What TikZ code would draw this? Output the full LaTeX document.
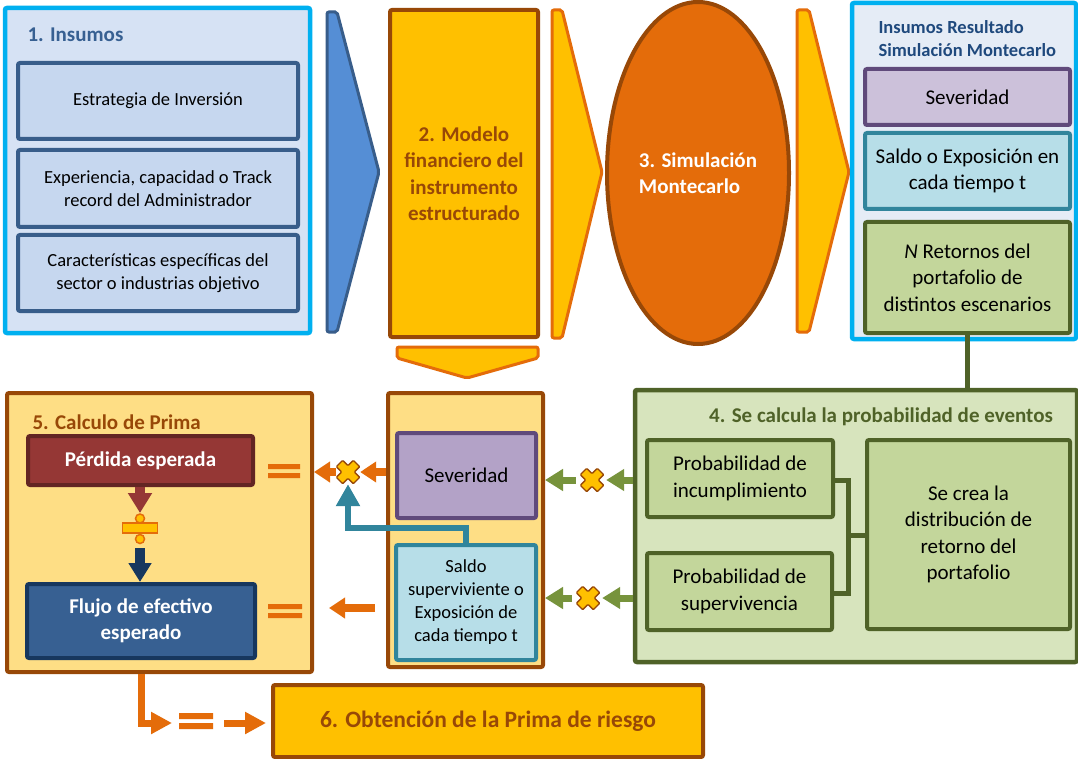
\documentclass[tikz,border=0pt]{standalone}
\usepackage{fontspec}
\setmainfont{Carlito}
\usetikzlibrary{arrows.meta,shapes.geometric,calc}

\definecolor{cyanB}{HTML}{00B0F0}
\definecolor{pOneFill}{HTML}{D6E2F4}
\definecolor{pOneBox}{HTML}{C6D7EF}
\definecolor{navyLine}{HTML}{385D8A}
\definecolor{titleBlue}{HTML}{376092}
\definecolor{titleDark}{HTML}{1F497D}
\definecolor{blueArrow}{HTML}{558ED5}
\definecolor{goldA}{HTML}{FFC000}
\definecolor{brownA}{HTML}{984807}
\definecolor{orangeA}{HTML}{E46C0A}
\definecolor{rightFill}{HTML}{E5ECF6}
\definecolor{lilacA}{HTML}{CCC1DA}
\definecolor{lilacB}{HTML}{B3A2C7}
\definecolor{purpleLine}{HTML}{604A7B}
\definecolor{aquaFill}{HTML}{B7DEE8}
\definecolor{tealA}{HTML}{31859C}
\definecolor{oliveFill}{HTML}{C3D69B}
\definecolor{oliveLine}{HTML}{4F6228}
\definecolor{paleGreen}{HTML}{D7E4BD}
\definecolor{greenArrow}{HTML}{77933C}
\definecolor{paleGold}{HTML}{FEDE85}
\definecolor{redFill}{HTML}{953735}
\definecolor{redLine}{HTML}{632523}
\definecolor{flowFill}{HTML}{376092}
\definecolor{flowLine}{HTML}{17375E}

\newcommand\fsSmall{\fontsize{18.5}{23}\selectfont}
\newcommand\fsMid{\fontsize{21}{26.5}\selectfont}
\newcommand\fsBig{\fontsize{23.5}{28}\selectfont}

\tikzset{
  panel/.style={draw, rectangle, rounded corners=2pt, line width=4.5pt, inner sep=0pt},
  box/.style={draw, rectangle, rounded corners=2pt, line width=4pt, align=center, inner sep=0pt},
  chevron/.style={rounded corners=2pt, line width=3pt},
  mulnode/.style={circle, minimum size=24pt, inner sep=0pt},
  oarrow/.style={draw=orangeA, line width=8pt, -{Triangle[length=16pt,width=20pt]}},
  oLarrow/.style={draw=orangeA, line width=7pt, -{Triangle[length=21pt,width=21pt]}},
  garrow/.style={draw=greenArrow, line width=7pt, -{Triangle[length=18pt,width=21pt]}},
  tarrow/.style={draw=tealA, line width=6pt, -{Triangle[length=22pt,width=23pt]}},
  rarrow/.style={draw=redFill, line width=10pt, -{Triangle[length=20pt,width=23pt]}},
  barrow/.style={draw=flowLine, line width=10pt, -{Triangle[length=19pt,width=22pt]}},
  link/.style={draw=oliveLine, line width=5pt},
  mulsign/.pic={
    \path[fill=goldA, draw=brownA, line width=1.3pt, rotate=45, rounded corners=0.8pt]
      (-4.5,-12) -- (4.5,-12) -- (4.5,-4.5) -- (12,-4.5) -- (12,4.5) -- (4.5,4.5)
      -- (4.5,12) -- (-4.5,12) -- (-4.5,4.5) -- (-12,4.5) -- (-12,-4.5) -- (-4.5,-4.5) -- cycle;
  }
}

\begin{document}
\begin{tikzpicture}[x=1pt,y=-1pt]
\useasboundingbox (0,0) rectangle (1078,759);
\fill[white] (0,0) rectangle (1078,759);

% ---------- 1. Insumos ----------
\node[panel, draw=cyanB, fill=pOneFill, minimum width=305pt, minimum height=325pt] (p1) at (157.5,170.5) {};
\node[anchor=west, text=titleBlue, font=\fsMid\bfseries] (t1) at (24,35) {1. Insumos};
\node[box, draw=navyLine, fill=pOneBox, minimum width=280pt, minimum height=76pt, font=\fsSmall] (ia) at (158,101) {Estrategia de Inversión};
\node[box, draw=navyLine, fill=pOneBox, minimum width=280pt, minimum height=77pt, font=\fsSmall] (ib) at (158,188.5) {Experiencia, capacidad o Track\\record del Administrador};
\node[box, draw=navyLine, fill=pOneBox, minimum width=280pt, minimum height=76pt, font=\fsSmall] (ic) at (158,273) {Características específicas del\\sector o industrias objetivo};

% blue chevron
\path[chevron, fill=blueArrow, draw=navyLine] (327,12) -- (337,12) -- (379,172) -- (337,332) -- (327,332) -- cycle;

% ---------- 2. Modelo financiero ----------
\node[box, draw=brownA, fill=goldA, minimum width=148pt, minimum height=327pt, text=brownA, font=\fsMid\bfseries] (m2) at (464,173.5) {2. Modelo\\financiero del\\instrumento\\estructurado};
\path[chevron, fill=goldA, draw=orangeA] (397,347) -- (538,347) -- (538,358) -- (467,378) -- (397,358) -- cycle;
\path[chevron, fill=goldA, draw=orangeA] (552,10) -- (562,10) -- (602,172) -- (562,338) -- (552,338) -- cycle;

% ---------- 3. Simulacion Montecarlo ----------
\node[ellipse, draw=brownA, line width=4pt, fill=orangeA, minimum width=182pt, minimum height=342pt, inner sep=0pt, align=left, text=white, font=\fsMid\bfseries] (sim) at (698,173) {3. Simulación\\Montecarlo};
\path[chevron, fill=goldA, draw=orangeA] (797,10) -- (809,10) -- (849,172) -- (809,332) -- (797,332) -- cycle;

% ---------- Insumos resultado ----------
\node[panel, draw=cyanB, fill=rightFill, minimum width=224pt, minimum height=336pt] (pr) at (964,171) {};
\node[anchor=west, align=left, text=titleDark, font=\fontsize{18.5}{23}\selectfont\bfseries] (tr) at (875,38.5) {Insumos Resultado\\Simulación Montecarlo};
\node[box, draw=purpleLine, fill=lilacA, minimum width=205pt, minimum height=56pt, font=\fsMid] (sevR) at (967.5,97) {Severidad};
\node[box, draw=tealA, fill=aquaFill, minimum width=205pt, minimum height=76pt, font=\fsMid] (salR) at (967.5,171) {Saldo o Exposición en\\cada tiempo t};
\node[box, draw=oliveLine, fill=oliveFill, minimum width=205pt, minimum height=111pt, font=\fsMid] (ret) at (967.5,277.5) {\textit{N} Retornos del\\portafolio de\\distintos escenarios};

% ---------- 4. Probabilidad de eventos ----------
\node[panel, draw=oliveLine, fill=paleGreen, minimum width=442pt, minimum height=272pt] (p4) at (856,526) {};
\node[text=oliveLine, font=\fsMid\bfseries] (t4) at (881,417) {4. Se calcula la probabilidad de eventos};
\node[box, draw=oliveLine, fill=oliveFill, minimum width=186pt, minimum height=77pt, font=\fsMid] (pinc) at (740,478.5) {Probabilidad de\\incumplimiento};
\node[box, draw=oliveLine, fill=oliveFill, minimum width=185pt, minimum height=77pt, font=\fsMid] (psup) at (739.5,591.5) {Probabilidad de\\supervivencia};
\node[box, draw=oliveLine, fill=oliveFill, minimum width=203pt, minimum height=189pt, font=\fsMid] (dist) at (968.5,534.5) {Se crea la\\distribución de\\retorno del\\portafolio};

\draw[link] (ret.south) -- (p4.north -| ret.south);
\coordinate (brk) at (848,535);
\draw[link] (pinc.east |- 0,480) -- (brk |- 0,480) -- (brk |- 0,593) -- (psup.east |- 0,593);
\draw[link] (brk) -- (dist.west |- brk);

% ---------- Modelo outputs ----------
\node[panel, line width=4pt, draw=brownA, fill=paleGold, minimum width=155pt, minimum height=274pt] (mid) at (465.5,530) {};
\node[box, draw=purpleLine, fill=lilacB, minimum width=139pt, minimum height=85pt, font=\fsMid] (sevM) at (466.5,475.5) {Severidad};
\node[box, draw=tealA, fill=aquaFill, minimum width=140pt, minimum height=115pt, font=\fsSmall] (salM) at (466,602.5) {Saldo\\superviviente o\\Exposición de\\cada tiempo t};

% ---------- 5. Calculo de Prima ----------
\node[panel, line width=4pt, draw=brownA, fill=paleGold, minimum width=305pt, minimum height=279pt] (p5) at (159.5,532.5) {};
\node[anchor=west, text=brownA, font=\fsMid\bfseries] (t5) at (29,422) {5. Calculo de Prima};
\node[box, draw=redLine, fill=redFill, minimum width=225pt, minimum height=49pt, text=white, font=\fsMid\bfseries] (pe) at (140.5,460.5) {Pérdida esperada};
\node[box, draw=flowLine, fill=flowFill, minimum width=228pt, minimum height=74pt, text=white, font=\fsMid\bfseries] (flujo) at (141,621) {Flujo de efectivo\\esperado};

% division sign between the two boxes
\coordinate (divc) at (140,528);
\draw[rarrow, shorten >=15pt] (divc |- pe.south) -- (divc);
\draw[barrow, shorten <=20pt] (divc) -- (divc |- flujo.north);
\draw[fill=goldA, draw=orangeA, line width=1.5pt] ($(divc)+(-17.5,-5)$) rectangle ($(divc)+(17.5,5)$);
\draw[fill=goldA, draw=orangeA, line width=1.5pt] ($(divc)+(0,-9.5)$) circle[radius=4.5];
\draw[fill=goldA, draw=orangeA, line width=1.5pt] ($(divc)+(0,11)$) circle[radius=4.5];

% ---------- 6. Obtencion de la Prima ----------
\node[box, draw=brownA, fill=goldA, minimum width=430pt, minimum height=72pt, text=brownA, font=\fsBig\bfseries] (o6) at (488,721) {6. Obtención de la Prima de riesgo};

% ---------- connectors ----------
\node[mulnode] (mx1) at (592,480) {};
\node[mulnode] (mx2) at (588,598) {};
\node[mulnode] (mxo) at (348,472) {};
\coordinate (rowB) at (0,608);
\coordinate (eqB) at (196,723);

\draw[garrow, shorten >=2pt] (p4.west |- mx1) -- (mx1.east);
\draw[garrow, shorten <=4pt] (mx1.west) -- (mid.east |- mx1);
\draw[garrow, shorten >=2pt] (p4.west |- mx2) -- (mx2.east);
\draw[garrow, shorten <=4pt] (mx2.west) -- (mid.east |- mx2);

\draw[oarrow] (mid.west |- mxo) -- (mxo.east);
\draw[oarrow] (mxo.west) -- (p5.east |- mxo);
\draw[tarrow] (salM.north) -- ++(0,-15) -| (mxo.south);
\draw[oarrow, shorten <=11pt, shorten >=15pt] (mid.west |- rowB) -- (p5.east |- rowB);

\draw[oLarrow, shorten >=24pt] (flujo.south |- p5.south) |- (eqB);
\draw[oLarrow, shorten <=28pt, shorten >=5pt] (eqB) -- (o6.west |- eqB);

% multiplication signs
\pic at (mx1) {mulsign};
\pic at (mx2) {mulsign};
\pic at (mxo) {mulsign};

% equals signs
\fill[orangeA] (268,464) rectangle (300,469) (268,473) rectangle (300,478);
\fill[orangeA] (268,604) rectangle (302,609) (268,613) rectangle (302,618);
\fill[orangeA] (179,713) rectangle (213,719) (179,723) rectangle (213,729);

\end{tikzpicture}
\end{document}
